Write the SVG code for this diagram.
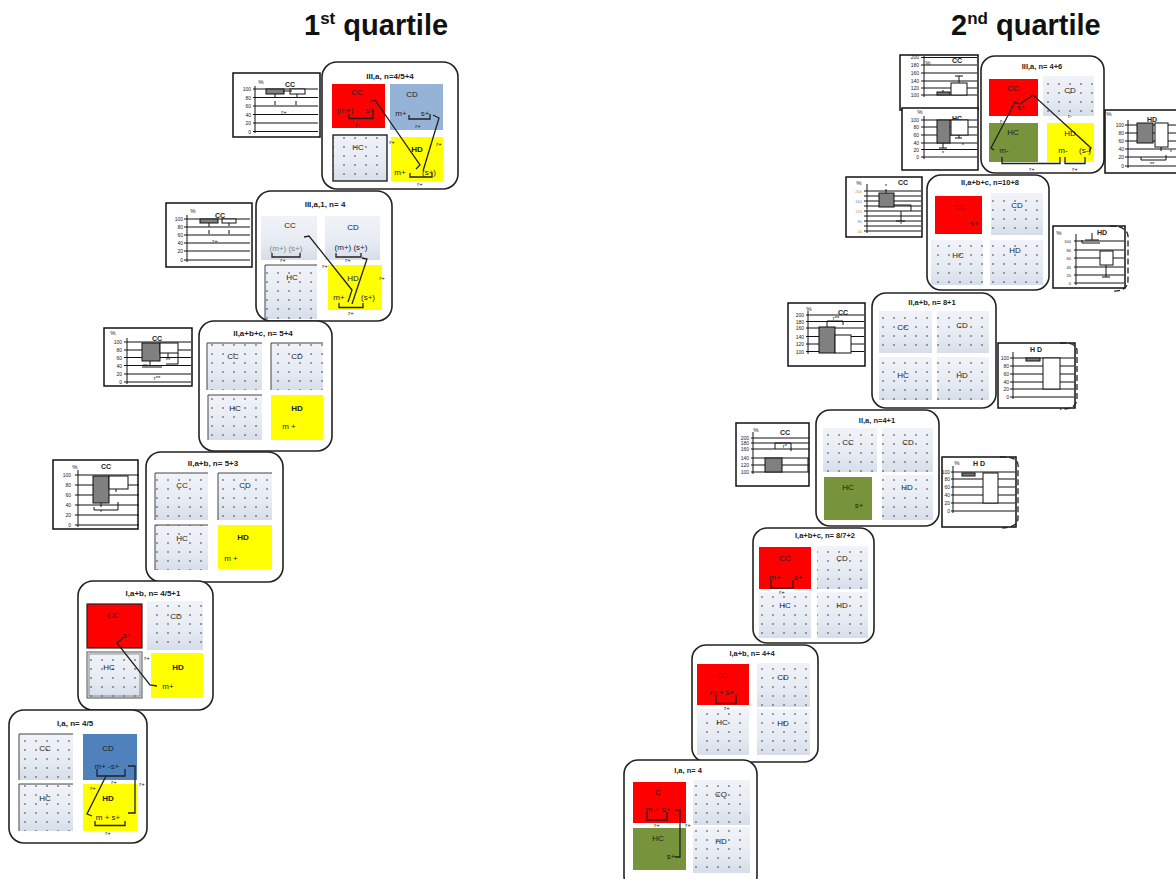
<svg xmlns="http://www.w3.org/2000/svg" width="1176" height="879" viewBox="0 0 1176 879">
<defs>
<pattern id="dots" width="11" height="9" patternUnits="userSpaceOnUse"><circle cx="3" cy="3" r="0.8" fill="#333"/></pattern>
<linearGradient id="lg" x1="0" y1="0" x2="0" y2="1"><stop offset="0" stop-color="#f0f3f8"/><stop offset="0.6" stop-color="#e6ebf3"/><stop offset="1" stop-color="#d6deea"/></linearGradient>
<style>
text{font-family:"Liberation Sans",Arial,sans-serif;fill:#222;text-anchor:middle}
.panel{fill:#fff;stroke:#222;stroke-width:1.6}
.cg{fill:url(#lg)}
.cp{fill:url(#dots)}
.cb{fill:none;stroke:#444;stroke-width:1}
.tt{font-size:8px;font-weight:bold}
.ts{font-size:7.5px;font-weight:bold}
.l{font-size:8px}
.lb{font-size:8px;font-weight:bold}
.r{font-size:6px}
.g{fill:#888}
.ln{fill:none;stroke:#222;stroke-width:1.3}
.ch{fill:#fff;stroke:#111;stroke-width:1.5}
.gr{fill:none;stroke:#111;stroke-width:1}
.ax{font-size:5px;text-anchor:end}
.ctl{font-size:7px;font-weight:bold}
.pc{font-size:6px}
.bg{fill:#808080;stroke:#111;stroke-width:1}
.bw{fill:#fff;stroke:#111;stroke-width:1}
.dash{fill:none;stroke:#222;stroke-width:1.3;stroke-dasharray:6 3}
.big{font-size:29px;font-weight:bold;fill:#111;text-anchor:start}
</style>
</defs>
<rect width="1176" height="879" fill="#fff"/>
<g opacity="0.995">
<text class="big" x="304" y="35">1<tspan font-size="17" dy="-11">st</tspan><tspan dy="11"> quartile</tspan></text>
<text class="big" x="951" y="35">2<tspan font-size="17" dy="-11">nd</tspan><tspan dy="11"> quartile</tspan></text>

<g id="L1">
<rect class="panel" x="322" y="62" width="136" height="127" rx="15"/>
<text class="tt" x="390" y="79">III,a,   n=4/5+4</text>
<rect x="332" y="84" width="53" height="44" fill="#ff0000"/>
<rect x="390" y="84" width="53" height="46" fill="#95b3d7"/>
<rect class="cg" x="333" y="135" width="54" height="46"/><rect class="cp" x="333" y="135" width="54" height="46"/><rect x="333" y="135" width="54" height="46" fill="none" stroke="#111" stroke-width="1.3"/>
<rect x="391" y="137" width="52" height="44" fill="#ffff00"/>
<text class="l" x="357" y="95">CC</text>
<text class="l" x="345" y="113">(m+)</text><text class="l" x="370" y="113">s+</text>
<text class="r" x="358" y="127">r+</text>
<text class="l" x="412" y="97">CD</text>
<text class="l" x="401" y="116">m+</text><text class="l" x="425" y="116">s+</text>
<text class="r" x="418" y="128">r+</text>
<text class="l" x="358" y="150">HC</text>
<text class="lb" x="417" y="152">HD</text>
<text class="l" x="400" y="175">m+</text><text class="l" x="429" y="175">(s+)</text>
<text class="r" x="420" y="186">r+</text>
<text class="r" x="392" y="144">r+</text>
<text class="r" x="439" y="146">r+</text>
</g>

<g id="L2">
<rect class="panel" x="256" y="191" width="136" height="130" rx="15"/>
<text class="tt" x="325" y="207">III,a,1,  n= 4</text>
<rect class="cg" x="261" y="216" width="56" height="44"/>
<rect class="cg" x="325" y="216" width="55" height="44"/>
<rect class="cg" x="265" y="265" width="52" height="54"/><rect class="cp" x="265" y="265" width="52" height="54"/><path d="M265,319 V265 H317" class="cb"/>
<rect x="328" y="265" width="54" height="45" fill="#ffff00"/>
<text class="l" x="290" y="228">CC</text>
<text class="l g" x="286" y="251">(m+) (s+)</text>
<text class="r" x="283" y="262">r+</text>
<text class="l" x="353" y="230">CD</text>
<text class="l" x="351" y="250">(m+) (s+)</text>
<text class="r" x="348" y="262">r+</text>
<text class="l" x="292" y="280">HC</text>
<text class="l" x="353" y="281">HD</text>
<text class="l" x="339" y="300">m+</text><text class="l" x="368" y="300">(s+)</text>
<text class="r" x="351" y="315">r+</text>
<text class="r" x="325" y="268">r+</text>
<text class="r" x="382" y="280">r+</text>
</g>

<g id="L3">
<rect class="panel" x="199" y="321" width="133" height="130" rx="15"/>
<text class="tt" x="263" y="336">II,a+b+c,  n= 5+4</text>
<rect class="cg" x="207" y="343" width="55" height="47"/><rect class="cp" x="207" y="343" width="55" height="47"/><path d="M207,390 V343 H262" class="cb"/>
<rect class="cg" x="271" y="343" width="52" height="47"/><rect class="cp" x="271" y="343" width="52" height="47"/><path d="M271,390 V343 H323" class="cb"/>
<rect class="cg" x="208" y="395" width="54" height="45"/><rect class="cp" x="208" y="395" width="54" height="45"/><path d="M208,440 V395 H262" class="cb"/>
<rect x="271" y="395" width="52" height="45" fill="#ffff00"/>
<text class="l" x="233" y="359">CC</text>
<text class="l" x="297" y="359">CD</text>
<text class="l" x="235" y="411">HC</text>
<text class="lb" x="297" y="411">HD</text>
<text class="l" x="289" y="429">m +</text>
</g>

<g id="L4">
<rect class="panel" x="146" y="452" width="137" height="130" rx="15"/>
<text class="tt" x="213" y="466">II,a+b,  n= 5+3</text>
<rect class="cg" x="155" y="473" width="53" height="47"/><rect class="cp" x="155" y="473" width="53" height="47"/><path d="M155,520 V473 H208" class="cb"/>
<rect class="cg" x="218" y="473" width="54" height="47"/><rect class="cp" x="218" y="473" width="54" height="47"/><path d="M218,520 V473 H272" class="cb"/>
<rect class="cg" x="155" y="525" width="53" height="45"/><rect class="cp" x="155" y="525" width="53" height="45"/><path d="M155,570 V525 H208" class="cb"/>
<rect x="218" y="525" width="54" height="44" fill="#ffff00"/>
<text class="l" x="182" y="488">CC</text>
<text class="l" x="245" y="488">CD</text>
<text class="l" x="182" y="541">HC</text>
<text class="lb" x="243" y="540">HD</text>
<text class="l" x="231" y="561">m +</text>
</g>

<g id="L5">
<rect class="panel" x="78" y="581" width="135" height="129" rx="15"/>
<text class="tt" x="153" y="596">I,a+b,  n= 4/5+1</text>
<rect x="87" y="604" width="55" height="44" fill="#ff0000" stroke="#222" stroke-width="1.2"/>
<rect class="cg" x="147" y="601" width="56" height="49"/><rect class="cp" x="147" y="601" width="56" height="49"/>
<rect class="cg" x="87" y="652" width="55" height="46"/><rect class="cp" x="87" y="652" width="55" height="46"/><rect x="87" y="652" width="55" height="46" fill="none" stroke="#555" stroke-width="1"/><rect x="89" y="654" width="51" height="42" fill="none" stroke="#777" stroke-width="0.8"/>
<rect x="151" y="653" width="52" height="45" fill="#ffff00"/>
<text class="l" x="113" y="618">CC</text>
<text class="l" x="127" y="638">s+</text>
<text class="l" x="176" y="619">CD</text>
<text class="l" x="109" y="670">HC</text>
<text class="lb" x="178" y="670">HD</text>
<text class="l" x="168" y="689">m+</text>
<text class="r" x="147" y="660">r+</text>
</g>

<g id="L6">
<rect class="panel" x="9" y="710" width="138" height="133" rx="15"/>
<text class="tt" x="75" y="726">I,a,  n= 4/5</text>
<rect class="cg" x="19" y="734" width="54" height="46"/><rect class="cp" x="19" y="734" width="54" height="46"/><path d="M19,780 V734 H73" class="cb"/>
<rect x="83" y="734" width="54" height="46" fill="#4f81bd"/>
<rect class="cg" x="19" y="784" width="54" height="47"/><rect class="cp" x="19" y="784" width="54" height="47"/><path d="M19,831 V784 H73" class="cb"/>
<rect x="83" y="784" width="54" height="47" fill="#ffff00"/>
<text class="l" x="45" y="751">CC</text>
<text class="l" x="108" y="751">CD</text>
<text class="l" x="107" y="769">m+ -s+</text>
<text class="r" x="114" y="784">r+</text>
<text class="l" x="45" y="801">HC</text>
<text class="lb" x="108" y="801">HD</text>
<text class="l" x="108" y="820">m + s+</text>
<text class="r" x="108" y="835">r+</text>
<text class="r" x="93" y="790">r+</text>
<text class="r" x="142" y="786">r+</text>
</g>

<g id="R1">
<rect class="panel" x="981" y="56" width="123" height="117" rx="14"/>
<text class="ts" x="1042" y="69">III,a, n= 4+6</text>
<rect x="989" y="79" width="49" height="37" fill="#ff0000"/>
<rect class="cg" x="1043" y="76" width="51" height="40"/><rect class="cp" x="1043" y="76" width="51" height="40"/>
<rect x="989" y="123" width="49" height="39" fill="#77933c"/>
<rect x="1047" y="123" width="47" height="39" fill="#ffff00"/>
<text class="l" x="1013" y="91">CC</text>
<text class="l" x="1021" y="110">s+</text>
<text class="l" x="1070" y="93">CD</text>
<text class="r" x="1070" y="118">r-</text>
<text class="r" x="1002" y="123">r-</text>
<text class="l" x="1013" y="135">HC</text>
<text class="l" x="1004" y="153">m-</text>
<text class="l" x="1070" y="136">HD</text>
<text class="l" x="1063" y="153">m-</text><text class="l" x="1085" y="153">(s-)</text>
<text class="r" x="1032" y="171">r+</text>
<text class="r" x="1075" y="171">r+</text>
</g>

<g id="R2">
<rect class="panel" x="927" y="175" width="122" height="115" rx="14"/>
<text class="ts" x="990" y="185">II,a+b+c, n=10+8</text>
<rect x="935" y="196" width="47" height="38" fill="#ff0000"/>
<rect class="cg" x="991" y="193" width="52" height="42"/><rect class="cp" x="991" y="193" width="52" height="42"/>
<rect class="cg" x="931" y="240" width="52" height="45"/><rect class="cp" x="931" y="240" width="52" height="45"/>
<rect class="cg" x="990" y="240" width="53" height="45"/><rect class="cp" x="990" y="240" width="53" height="45"/>
<text class="l" x="960" y="210">CC</text>
<text class="l" x="974" y="226">s+</text>
<text class="l" x="1017" y="208">CD</text>
<text class="l" x="958" y="258">HC</text>
<text class="l" x="1015" y="253">HD</text>
</g>

<g id="R3">
<rect class="panel" x="872" y="293" width="124" height="115" rx="14"/>
<text class="ts" x="932" y="305">II,a+b, n= 8+1</text>
<rect class="cg" x="879" y="311" width="53" height="42"/><rect class="cp" x="879" y="311" width="53" height="42"/>
<rect class="cg" x="937" y="311" width="52" height="42"/><rect class="cp" x="937" y="311" width="52" height="42"/>
<rect class="cg" x="879" y="357" width="53" height="43"/><rect class="cp" x="879" y="357" width="53" height="43"/>
<rect class="cg" x="937" y="357" width="52" height="43"/><rect class="cp" x="937" y="357" width="52" height="43"/>
<text class="l" x="903" y="330">CC</text>
<text class="l" x="962" y="328">CD</text>
<text class="l" x="903" y="378">HC</text>
<text class="l" x="962" y="378">HD</text>
</g>

<g id="R4">
<rect class="panel" x="816" y="410" width="123" height="116" rx="14"/>
<text class="ts" x="877" y="423">II,a, n=4+1</text>
<rect class="cg" x="823" y="428" width="54" height="44"/><rect class="cp" x="823" y="428" width="54" height="44"/>
<rect class="cg" x="882" y="428" width="51" height="44"/><rect class="cp" x="882" y="428" width="51" height="44"/>
<rect x="824" y="477" width="48" height="43" fill="#77933c"/>
<rect class="cg" x="882" y="475" width="51" height="45"/><rect class="cp" x="882" y="475" width="51" height="45"/>
<text class="l" x="848" y="445">CC</text>
<text class="l" x="908" y="445">CD</text>
<text class="l" x="848" y="490">HC</text>
<text class="l" x="859" y="508">s+</text>
<text class="l" x="907" y="490">HD</text>
</g>

<g id="R5">
<rect class="panel" x="753" y="528" width="121" height="115" rx="14"/>
<text class="ts" x="825" y="538">I,a+b+c, n= 8/7+2</text>
<rect x="759" y="547" width="52" height="42" fill="#ff0000"/>
<rect class="cg" x="817" y="546" width="51" height="43"/><rect class="cp" x="817" y="546" width="51" height="43"/>
<rect class="cg" x="759" y="592" width="52" height="46"/><rect class="cp" x="759" y="592" width="52" height="46"/>
<rect class="cg" x="817" y="592" width="51" height="46"/><rect class="cp" x="817" y="592" width="51" height="46"/>
<text class="l" x="785" y="561">CC</text>
<text class="l" x="775" y="580">m+</text><text class="l" x="798" y="580">s+</text>
<text class="r" x="782" y="594">r+</text>
<text class="l" x="842" y="561">CD</text>
<text class="l" x="785" y="608">HC</text>
<text class="l" x="842" y="608">HD</text>
</g>

<g id="R6">
<rect class="panel" x="692" y="645" width="126" height="117" rx="14"/>
<text class="ts" x="752" y="656">I,a+b, n= 4+4</text>
<rect x="697" y="664" width="52" height="41" fill="#ff0000"/>
<rect class="cg" x="757" y="663" width="53" height="44"/><rect class="cp" x="757" y="663" width="53" height="44"/>
<rect class="cg" x="697" y="709" width="52" height="46"/><rect class="cp" x="697" y="709" width="52" height="46"/>
<rect class="cg" x="757" y="709" width="53" height="46"/><rect class="cp" x="757" y="709" width="53" height="46"/>
<text class="l" x="722" y="678">CC</text>
<text class="l" x="722" y="695">m + s+</text>
<text class="r" x="727" y="710">r+</text>
<text class="l" x="783" y="680">CD</text>
<text class="l" x="722" y="725">HC</text>
<text class="l" x="783" y="726">HD</text>
</g>

<g id="R7">
<rect class="panel" x="624" y="760" width="133" height="130" rx="14"/>
<text class="ts" x="688" y="773">I,a, n= 4</text>
<rect x="633" y="782" width="53" height="41" fill="#ff0000"/>
<rect class="cg" x="693" y="780" width="57" height="45"/><rect class="cp" x="693" y="780" width="57" height="45"/>
<rect x="633" y="828" width="53" height="42" fill="#77933c"/>
<rect class="cg" x="693" y="827" width="57" height="46"/><rect class="cp" x="693" y="827" width="57" height="46"/>
<text class="l" x="658" y="795">C</text>
<text class="l" x="658" y="812">m + s+</text>
<text class="r" x="657" y="827">r+</text>
<text class="r" x="688" y="827">r+</text>
<text class="l" x="721" y="797">CQ</text>
<text class="l" x="658" y="841">HC</text>
<text class="l" x="671" y="859">s+</text>
<text class="l" x="721" y="844">HD</text>
</g>

<g id="chart-L1">
<rect class="ch" x="233" y="73" width="87" height="64"/>
<path class="gr" d="M253,89H318M253,97.5H318M253,106H318M253,114.5H318M253,123H318M253,131.5H318M255,86V133"/>
<text class="ax" x="251" y="91">100</text><text class="ax" x="251" y="99.5">80</text><text class="ax" x="251" y="108">60</text><text class="ax" x="251" y="116.5">40</text><text class="ax" x="251" y="125">20</text><text class="ax" x="251" y="133.5">0</text>
<text class="pc" x="261" y="84">%</text><text class="ctl" x="290" y="87">CC</text>
<rect class="bg" x="266" y="89" width="18" height="5"/><rect class="bw" x="290" y="89" width="15" height="5"/>
<path class="gr" d="M275,94V98M297,94V98M275,101V105M296,101V105M283,91H292"/>
<text class="r" x="284" y="114">r+</text>
</g>

<g id="chart-L2">
<rect class="ch" x="166" y="203" width="86" height="64"/>
<path class="gr" d="M184,219H250M184,227H250M184,235H250M184,243H250M184,251H250M184,260H250M187,215V262"/>
<text class="ax" x="183" y="221">100</text><text class="ax" x="183" y="229">80</text><text class="ax" x="183" y="237">60</text><text class="ax" x="183" y="245">40</text><text class="ax" x="183" y="253">20</text><text class="ax" x="183" y="262">0</text>
<text class="pc" x="193" y="213">%</text><text class="ctl" x="220" y="218">CC</text>
<rect class="bg" x="200" y="219" width="18" height="4"/><rect class="bw" x="222" y="219" width="14" height="4"/>
<path class="gr" d="M209,223V227M229,223V226M209,230V234M229,230V234"/>
<text class="r" x="215" y="243">r+</text>
</g>

<g id="chart-L3">
<rect class="ch" x="104" y="328" width="88" height="58"/>
<path class="gr" d="M124,342H191M124,350H191M124,357.5H191M124,365.5H191M124,374H191M124,382H191M127,338V384"/>
<text class="ax" x="122" y="344">100</text><text class="ax" x="122" y="352">80</text><text class="ax" x="122" y="359.5">60</text><text class="ax" x="122" y="367.5">40</text><text class="ax" x="122" y="376">20</text><text class="ax" x="122" y="384">0</text>
<text class="pc" x="113" y="335">%</text><text class="ctl" x="157" y="341">CC</text>
<rect class="bg" x="142" y="343" width="18" height="18"/><rect class="bw" x="160" y="343" width="18" height="10"/>
<path class="gr" d="M150,361V366M142,367H162M168,353V358M178,353V364H166"/>
<text class="r" x="145" y="368">**</text><text class="r" x="168" y="362">**</text>
<text class="r" x="157" y="380">r**</text>
</g>

<g id="chart-L4">
<rect class="ch" x="53" y="460" width="85" height="69"/>
<path class="gr" d="M75,475H139M75,485H139M75,495H139M75,505H139M75,515H139M75,525H139M78,470V527"/>
<text class="ax" x="71" y="477">100</text><text class="ax" x="71" y="487">80</text><text class="ax" x="71" y="497">60</text><text class="ax" x="71" y="507">40</text><text class="ax" x="71" y="517">20</text><text class="ax" x="71" y="527">0</text>
<text class="pc" x="75" y="469">%</text><text class="ctl" x="106" y="469">CC</text>
<rect class="bg" x="93" y="476" width="16" height="27"/><rect class="bw" x="109" y="476" width="19" height="13"/>
<path class="gr" d="M101,503V507M94,507V510H118V502M116,489V492"/>
<text class="r" x="101" y="514">*</text>
</g>

<g id="chart-R1a">
<rect class="ch" x="900" y="55" width="78" height="55"/>
<path class="gr" d="M921,57.5H977M921,65H977M921,73H977M921,81H977M921,88H977M921,95H977M924,56V97"/>
<text class="ax" x="919" y="59">200</text><text class="ax" x="919" y="67">180</text><text class="ax" x="919" y="75">160</text><text class="ax" x="919" y="83">140</text><text class="ax" x="919" y="90">120</text><text class="ax" x="919" y="97">100</text>
<text class="pc" x="928" y="65">%</text><text class="ctl" x="957" y="63">CC</text>
<rect class="bg" x="937" y="92" width="13" height="3"/><rect class="bw" x="951" y="83" width="16" height="12"/>
<path class="gr" d="M959,83V76M955,76H963M943,92V90"/>
</g>

<g id="chart-R1b">
<rect class="ch" x="902" y="108" width="76" height="62"/>
<path class="gr" d="M921,120H977M921,127H977M921,135H977M921,143H977M921,149.5H977M921,157H977M924,116V159"/>
<text class="ax" x="919" y="122">100</text><text class="ax" x="919" y="129">80</text><text class="ax" x="919" y="137">60</text><text class="ax" x="919" y="145">40</text><text class="ax" x="919" y="151.5">20</text><text class="ax" x="919" y="159">0</text>
<text class="pc" x="920" y="114">%</text><text class="ctl" x="957" y="121">HC</text>
<rect class="bg" x="937" y="120" width="13" height="23"/><rect class="bw" x="951" y="120" width="17" height="15"/>
<path class="gr" d="M943,143V148M939,148H947M959,135V138M955,138H962"/>
<text class="r" x="943" y="155">*</text><text class="r" x="963" y="147">*</text>
</g>

<g id="chart-R1c">
<rect class="ch" x="1105" y="110" width="75" height="63"/>
<path class="gr" d="M1125,125H1176M1125,133H1176M1125,141H1176M1125,149H1176M1125,157H1176M1125,166H1176M1128,120V168"/>
<text class="ax" x="1124" y="127">100</text><text class="ax" x="1124" y="135">80</text><text class="ax" x="1124" y="143">60</text><text class="ax" x="1124" y="151">40</text><text class="ax" x="1124" y="159">20</text><text class="ax" x="1124" y="168">0</text>
<text class="pc" x="1109" y="116">%</text><text class="ctl" x="1152" y="122">HD</text>
<rect class="bg" x="1137" y="123" width="16" height="20"/><rect class="bw" x="1155" y="123" width="13" height="24"/>
<path class="gr" d="M1161,147V151M1141,157V160H1166V155"/>
<text class="r" x="1171" y="154">*</text><text class="r" x="1152" y="166">**</text>
</g>

<g id="chart-R2a">
<rect class="ch" x="846" y="177" width="76" height="60"/>
<path class="gr" d="M864,191H921M864,196H921M864,201H921M864,206H921M864,211H921M864,216H921M864,221H921M864,226H921M864,231H921M867,184V233"/>
<text class="ax" x="862" y="193" style="fill:#c8884a;font-size:4px">200</text><text class="ax" x="862" y="203" style="fill:#6a8cc4;font-size:4px">160</text><text class="ax" x="862" y="213" style="fill:#c8884a;font-size:4px">120</text><text class="ax" x="862" y="223" style="fill:#6a8cc4;font-size:4px">80</text><text class="ax" x="862" y="233" style="fill:#c8884a;font-size:4px">40</text>
<text class="pc" x="859" y="185">%</text><text class="ctl" x="903" y="185">CC</text>
<rect class="bg" x="879" y="193" width="15" height="14"/>
<path class="gr" d="M886,193V189M894,205H911V211M901,211V221M896,221H905"/>
<text class="r" x="886" y="188">*</text><text class="r" x="901" y="226">*</text>
</g>

<g id="chart-R2b">
<rect class="ch" x="1053" y="226" width="72" height="62"/>
<path class="dash" d="M1110,226 Q1130,226 1128,240 V280 Q1128,292 1112,291"/>
<path class="gr" d="M1074,241H1124M1074,250H1124M1074,258H1124M1074,267H1124M1074,275H1124M1074,283H1124M1076,234V285"/>
<text class="ax" x="1071" y="243" style="font-size:4px">100</text><text class="ax" x="1071" y="252" style="font-size:4px">80</text><text class="ax" x="1071" y="260" style="font-size:4px">60</text><text class="ax" x="1071" y="269" style="font-size:4px">40</text><text class="ax" x="1071" y="277" style="font-size:4px">20</text><text class="ax" x="1071" y="285" style="font-size:4px">0</text>
<text class="pc" x="1059" y="235">%</text><text class="ctl" x="1102" y="235">HD</text>
<path class="gr" d="M1085,240H1099M1092,233V240M1082,240V243H1100"/>
<rect class="bw" x="1100" y="251" width="13" height="14"/>
<path class="gr" d="M1106,265V277M1102,277H1110"/>
</g>

<g id="chart-R3a">
<rect class="ch" x="788" y="303" width="77" height="63"/>
<path class="gr" d="M806,315H864M806,321.5H864M806,328H864M806,336.5H864M806,344H864M806,351.5H864M808,311V354"/>
<text class="ax" x="804" y="317">200</text><text class="ax" x="804" y="323.5">180</text><text class="ax" x="804" y="330">160</text><text class="ax" x="804" y="338.5">140</text><text class="ax" x="804" y="346">120</text><text class="ax" x="804" y="353.5">100</text>
<text class="pc" x="809" y="311">%</text><text class="ctl" x="843" y="315">CC</text>
<rect class="bg" x="819" y="327" width="16" height="26"/><rect class="bw" x="835" y="335" width="16" height="18"/>
<path class="gr" d="M827,327V321H843V325"/>
<text class="r" x="836" y="320">r**</text>
</g>

<g id="chart-R3b">
<rect class="ch" x="998" y="343" width="77" height="65"/>
<path class="dash" d="M1060,343 Q1078,342 1077,352 V398 Q1077,410 1060,409"/>
<path class="gr" d="M1010,358H1074M1010,366H1074M1010,374H1074M1010,382H1074M1010,389H1074M1010,397H1074M1013,352V399"/>
<text class="ax" x="1009" y="360">100</text><text class="ax" x="1009" y="368">80</text><text class="ax" x="1009" y="376">60</text><text class="ax" x="1009" y="384">40</text><text class="ax" x="1009" y="391">20</text><text class="ax" x="1009" y="399">0</text>
<text class="ctl" x="1036" y="352">H D</text>
<rect class="bg" x="1026" y="358" width="14" height="3"/><rect class="bw" x="1043" y="358" width="17" height="31"/>
</g>

<g id="chart-R4a">
<rect class="ch" x="736" y="423" width="73" height="63"/>
<path class="gr" d="M751,438H809M751,443H809M751,449H809M751,458H809M751,465H809M751,472H809M753,432V474M808,458V472"/>
<text class="ax" x="749" y="440">200</text><text class="ax" x="749" y="445">180</text><text class="ax" x="749" y="451">160</text><text class="ax" x="749" y="460">140</text><text class="ax" x="749" y="467">120</text><text class="ax" x="749" y="474">100</text>
<text class="pc" x="756" y="432">%</text><text class="ctl" x="785" y="435">CC</text>
<rect class="bg" x="765" y="458" width="17" height="14"/>
<path class="gr" d="M775,449V443H791V451"/>
<text class="r" x="785" y="448">r*</text>
</g>

<g id="chart-R4b">
<rect class="ch" x="942" y="457" width="74" height="70"/>
<path class="dash" d="M1000,457 Q1020,456 1018,468 V518 Q1018,528 1000,528"/>
<path class="gr" d="M951,472H1015M951,479H1015M951,487H1015M951,495H1015M951,503H1015M951,511H1015M953,466V513"/>
<text class="ax" x="950" y="474">100</text><text class="ax" x="950" y="481">80</text><text class="ax" x="950" y="489">60</text><text class="ax" x="950" y="497">40</text><text class="ax" x="950" y="505">20</text><text class="ax" x="950" y="513">0</text>
<text class="pc" x="957" y="465">%</text><text class="ctl" x="979" y="466">H D</text>
<rect class="bg" x="962" y="473" width="13" height="3"/><rect class="bw" x="983" y="473" width="15" height="30"/>
</g>

<g id="connectors" class="ln">
<path d="M349,114V118.5H373V111"/>
<path d="M409,115V119H430V114"/>
<path d="M410,173V177H432V173"/>
<path d="M370,102L375,100L420,165L416,169"/>
<path d="M433,115L439,118L423,171"/>
<path d="M272,253V257H300V253"/>
<path d="M336,253V257H361V253"/>
<path d="M339,303V307.5H363V303"/>
<path d="M304,237L309,236L352,290L348,302"/>
<path d="M362,258L367,259L352,304"/>
<path d="M124,637L117,643L150,685L157,686"/>
<path d="M97,769V776H125V769"/>
<path d="M95,821V825.5H125V821"/>
<path d="M106,776L87,814L92,816"/>
<path d="M128,766H135V813H128"/>
<path d="M1002,157V163.5H1060V157"/>
<path d="M1065,157V163.5H1085V157"/>
<path d="M994,150L991,148L1015,102L1020,104L1033,95L1091,148L1089,152"/>
<path d="M771,580V588H793V580"/>
<path d="M716,695V703.5H736V695"/>
<path d="M647,812V820H667V812"/>
<path d="M675,810H680V857H675"/>
</g>
</g>
</svg>
